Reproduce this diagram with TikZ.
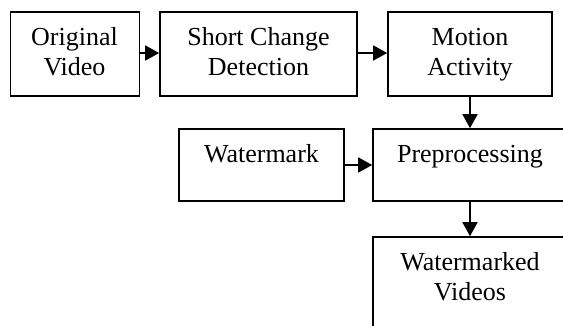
\documentclass[tikz,border=0pt]{standalone}
\usepackage{fontspec}
\setmainfont{Liberation Serif}
\usetikzlibrary{arrows.meta}
\tikzset{
  box/.style={draw, line width=1.6pt, rectangle, inner sep=0pt},
  txt/.style={anchor=base, inner sep=0pt, font=\fontsize{26}{30}\selectfont},
  conn/.style={line width=1.6pt, -{Triangle[length=14pt,width=15pt]}}
}
\newcommand{\twolines}[2]{\begin{tabular}[t]{@{}c@{}}#1\\#2\end{tabular}}
\begin{document}
\begin{tikzpicture}[x=1pt,y=-1pt]
\useasboundingbox (0,0) rectangle (563,326);
\clip (0,0) rectangle (563,326);
% boxes
\node[box, minimum width=129pt, minimum height=84pt] (orig) at (75,54) {};
\node[box, minimum width=197pt, minimum height=84pt] (scd) at (258.5,54) {};
\node[box, minimum width=164pt, minimum height=84pt] (mot) at (470,54) {};
\node[box, minimum width=165pt, minimum height=72pt] (wm) at (261.5,165) {};
\node[box, minimum width=194pt, minimum height=72pt] (pre) at (470,165) {};
\node[box, minimum width=194pt, minimum height=110pt] (out) at (470,292) {};
% texts
\node[txt] (torig) at (74.5,46) {\twolines{Original}{Video}};
\node[txt] (tscd) at (258.5,46) {\twolines{Short Change}{Detection}};
\node[txt] (tmot) at (470,46) {\twolines{Motion}{Activity}};
\node[txt] (twm) at (261.5,163) {Watermark};
\node[txt] (tpre) at (470,163) {Preprocessing};
\node[txt] (tout) at (470,270) {\twolines{Watermarked}{Videos}};
% connectors
\draw[conn] (orig.east |- 0,53) -- (scd.west |- 0,53);
\draw[conn] (scd.east |- 0,53) -- (mot.west |- 0,53);
\draw[conn] (mot.south) -- (pre.north);
\draw[conn] (wm.east) -- (pre.west);
\draw[conn] (pre.south) -- (out.north);
\end{tikzpicture}
\end{document}
